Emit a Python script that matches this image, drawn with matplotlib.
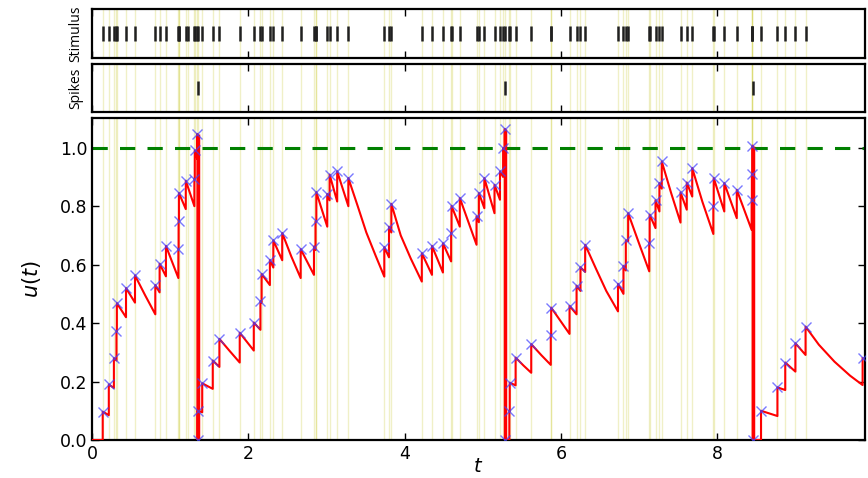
import matplotlib
matplotlib.use("Agg")
import matplotlib.pyplot as plt
import numpy as np

# ---- data ----
# input events on the membrane trace: time, value before jump, value after jump
ev_t = [0.137, 0.215, 0.28, 0.313, 0.318, 0.435, 0.55, 0.81, 0.865, 0.946,
        1.105, 1.108, 1.112, 1.20, 1.31, 1.315, 1.345, 1.35, 1.352, 1.41,
        1.545, 1.63, 1.89, 2.07, 2.155, 2.17, 2.276, 2.32, 2.434, 2.67,
        2.84, 2.86, 2.87, 3.01, 3.04, 3.137, 3.28, 3.74, 3.80, 3.83,
        4.22, 4.35, 4.49, 4.595, 4.60, 4.706, 4.92, 4.95, 5.02, 5.15,
        5.22, 5.26, 5.28, 5.285, 5.34, 5.345, 5.42, 5.62, 5.87, 5.875,
        6.11, 6.2, 6.25, 6.31, 6.73, 6.80, 6.83, 6.86, 7.13, 7.135,
        7.21, 7.26, 7.29, 7.53, 7.61, 7.68, 7.95, 7.955, 8.09, 8.25,
        8.44, 8.443, 8.45, 8.455, 8.56, 8.77, 8.87, 9.0, 9.13, 9.86]
ev_pre = [0.0, 0.085, 0.178, 0.272, 0.373, 0.42, 0.47, 0.43, 0.505, 0.56,
          0.554, 0.654, 0.751, 0.79, 0.80, 0.894, 0.962, 1.047, 0.0, 0.095,
          0.175, 0.25, 0.265, 0.306, 0.377, 0.47, 0.53, 0.59, 0.615, 0.554,
          0.565, 0.65, 0.748, 0.73, 0.82, 0.816, 0.80, 0.559, 0.625, 0.71,
          0.542, 0.565, 0.573, 0.611, 0.708, 0.73, 0.668, 0.745, 0.793, 0.776,
          0.822, 0.90, 0.98, 1.064, 0.0, 0.1, 0.187, 0.23, 0.257, 0.36,
          0.363, 0.43, 0.51, 0.575, 0.44, 0.50, 0.58, 0.68, 0.577, 0.673,
          0.725, 0.782, 0.86, 0.744, 0.788, 0.833, 0.705, 0.80, 0.782, 0.759,
          0.719, 0.82, 0.91, 1.007, 0.0, 0.082, 0.171, 0.234, 0.291, 0.188]
ev_post = [0.097, 0.19, 0.28, 0.373, 0.468, 0.52, 0.563, 0.53, 0.603, 0.664,
           0.654, 0.751, 0.845, 0.887, 0.894, 0.991, 1.047, 0.0, 0.1, 0.194,
           0.272, 0.346, 0.367, 0.402, 0.474, 0.568, 0.616, 0.683, 0.708, 0.653,
           0.662, 0.748, 0.848, 0.842, 0.908, 0.919, 0.896, 0.66, 0.73, 0.808,
           0.639, 0.664, 0.673, 0.708, 0.801, 0.828, 0.765, 0.845, 0.896, 0.873,
           0.919, 0.999, 1.064, 0.0, 0.1, 0.196, 0.282, 0.328, 0.36, 0.453,
           0.459, 0.528, 0.591, 0.668, 0.534, 0.596, 0.683, 0.776, 0.673, 0.771,
           0.82, 0.879, 0.953, 0.847, 0.881, 0.93, 0.80, 0.896, 0.879, 0.856,
           0.82, 0.91, 1.007, 0.0, 0.1, 0.18, 0.265, 0.331, 0.388, 0.28]
# intermediate points read on the longer (curved) decays
decay_t = [0.68, 1.76, 2.55, 3.40, 3.51, 3.63, 3.95, 4.08, 5.52, 5.75,
           6.45, 6.58, 7.00, 7.41, 7.81, 9.30, 9.50, 9.70]
decay_u = [0.495, 0.305, 0.628, 0.80, 0.71, 0.63, 0.70, 0.62, 0.255, 0.29,
           0.585, 0.51, 0.672, 0.845, 0.815, 0.326, 0.268, 0.22]

stim_times = [0.137, 0.215, 0.28, 0.313, 0.318, 0.435, 0.55, 0.81, 0.865, 0.946,
              1.105, 1.108, 1.112, 1.20, 1.23, 1.31, 1.315, 1.345, 1.352, 1.41,
              1.545, 1.63, 1.89, 2.07, 2.155, 2.17, 2.276, 2.32, 2.434, 2.67,
              2.84, 2.86, 2.87, 3.01, 3.04, 3.137, 3.28, 3.74, 3.80, 3.83,
              4.22, 4.35, 4.49, 4.595, 4.60, 4.706, 4.92, 4.95, 5.02, 5.15,
              5.22, 5.26, 5.28, 5.34, 5.345, 5.42, 5.62, 5.87, 5.875, 6.11,
              6.2, 6.25, 6.31, 6.73, 6.80, 6.83, 6.86, 7.13, 7.135, 7.21,
              7.26, 7.29, 7.53, 7.61, 7.68, 7.95, 7.955, 8.09, 8.25, 8.44,
              8.443, 8.45, 8.56, 8.77, 8.87, 9.0, 9.13]
spike_times = [1.35, 5.285, 8.455]
threshold = 1.0

xticks = [0, 2, 4, 6, 8]
yticks = [0.0, 0.2, 0.4, 0.6, 0.8, 1.0]
ytick_labels = ["0.0", "0.2", "0.4", "0.6", "0.8", "1.0"]

# ---- build the trace from the events ----
pts = [(0.0, 0.0)]
for t, a, b in zip(ev_t, ev_pre, ev_post):
    pts.append((t, a))
    pts.append((t, b))
for t, u in zip(decay_t, decay_u):
    pts.append((t, u))
pts.sort(key=lambda p: p[0])  # stable sort keeps pre/post order
tr_t = [p[0] for p in pts]
tr_u = [p[1] for p in pts]

XMAX = 9.89

fig = plt.figure(figsize=(8.68, 4.78), dpi=100)
ax_s = fig.add_axes([0.106, 0.878, 0.8905, 0.1025])
ax_k = fig.add_axes([0.106, 0.766, 0.8905, 0.0998])
ax = fig.add_axes([0.106, 0.0795, 0.8905, 0.6726])

ycol = (0.75, 0.75, 0.0)
for a in (ax_s, ax_k, ax):
    for t in stim_times:
        a.axvline(t, color=ycol, alpha=0.22, lw=1.0, zorder=0)
    a.set_xlim(0, XMAX)
    for sp in a.spines.values():
        sp.set_linewidth(1.6)
    a.tick_params(direction="in", top=True, right=True, length=5, width=1.0,
                  labelsize=12.5)

# stimulus raster
ax_s.vlines(stim_times, -0.3, 0.3, color="#202020", lw=1.8)
ax_s.set_ylim(-1, 1)
ax_s.set_yticks([])
ax_s.set_xticks(xticks)
ax_s.set_xticklabels([])
ax_s.set_ylabel("Stimulus", family="Open Sans", fontsize=10, labelpad=6)

# spike raster
ax_k.vlines(spike_times, -0.3, 0.3, color="#202020", lw=1.8)
ax_k.set_ylim(-1, 1)
ax_k.set_yticks([])
ax_k.set_xticks(xticks)
ax_k.set_xticklabels([])
ax_k.set_ylabel("Spikes", family="Open Sans", fontsize=10, labelpad=6)

# membrane trace
ax.plot(tr_t, tr_u, color="red", lw=1.5, zorder=3)
ax.vlines(spike_times, 0, [ev_pre[ev_t.index(s)] for s in spike_times],
          color="red", lw=2.5, zorder=3)
ax.plot(ev_t, ev_post, linestyle="none", marker="x", color=(0.25, 0.25, 1.0),
        alpha=0.7, ms=7, mew=1.0, zorder=4)
ax.axhline(threshold, color="green", ls="--", lw=2.2, dashes=(5, 4), zorder=2)
ax.set_ylim(0, 1.1)
ax.set_xticks(xticks)
ax.set_xticklabels([str(x) for x in xticks])
ax.set_yticks(yticks)
ax.set_yticklabels(ytick_labels)
ax.set_xlabel("$t$", fontsize=14, labelpad=-4)
ax.set_ylabel("$u(t)$", fontsize=15, labelpad=12)

fig.savefig("out.png", dpi=100)
